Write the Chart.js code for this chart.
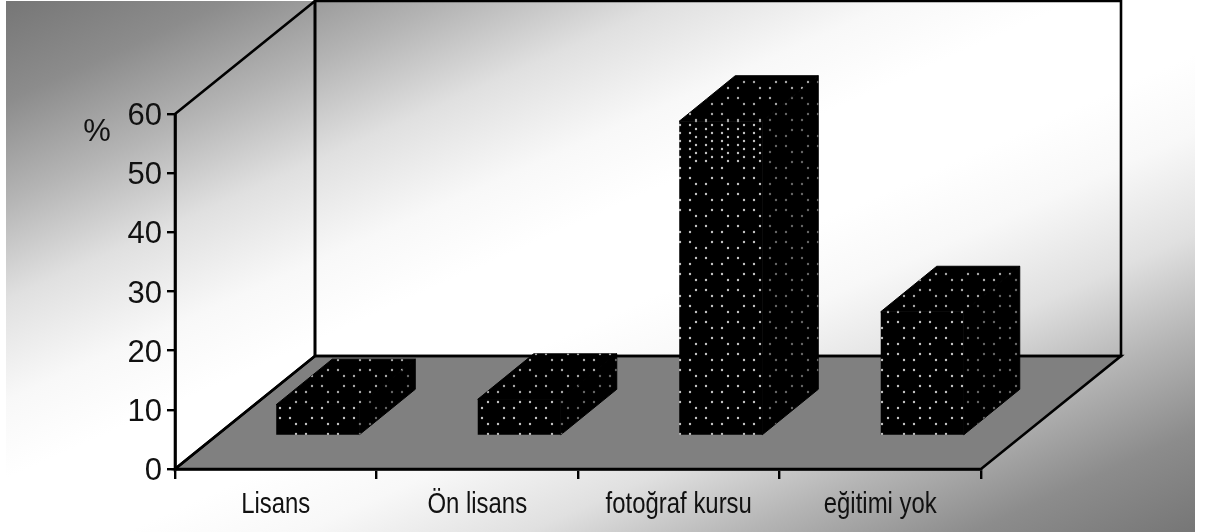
<!DOCTYPE html>
<html>
<head>
<meta charset="utf-8">
<style>
  body { margin: 0; background: #fff; }
  canvas { display: block; }
</style>
<script src="https://cdn.jsdelivr.net/npm/chart.js@4/dist/chart.umd.min.js"></script>
</head>
<body>
<canvas id="chart" width="1215" height="532"></canvas>
<script>
const categories = ["Lisans", "Ön lisans", "fotoğraf kursu", "eğitimi yok"];
const values = [5.3, 6.2, 53.2, 21];
const yTicks = [0, 10, 20, 30, 40, 50, 60];

// box depth and bar depth of the 3d look
const wallDepth = { x: 140, y: -113 };
const barShift = { x: 42, y: -33 };
const barDepth = { x: 56, y: -45.5 };

// dotted fill, 32px wide tile. rows are listed for the full canvas height
// because the reference texture gets denser near the top of the tall bar
function dotPattern(dotColor, dense) {
  const tile = document.createElement("canvas");
  tile.width = 32;
  tile.height = 532;
  const c = tile.getContext("2d");
  c.fillStyle = "#000";
  c.fillRect(0, 0, 32, 532);
  c.fillStyle = dotColor;
  function row(y, cols) {
    cols.forEach(function(x) {
      c.beginPath();
      c.arc(x, y, 1.2, 0, Math.PI * 2);
      c.fill();
    });
  }
  for (let y = 0; y < 532; y++) {
    const inBand = dense && y > 120 && y < 164;
    if (inBand) {
      if (y % 8 === 5) row(y, [8, 18]);
      if (y % 8 === 1) row(y, [24, 2]);
    } else {
      if (y % 32 === 8 || y % 32 === 18) row(y, [8, 18]);
      if (y % 32 === 24 || y % 32 === 2) row(y, [24, 2]);
    }
  }
  const pattern = document.getElementById("chart").getContext("2d").createPattern(tile, "repeat");
  // keep the dots fixed to the page while the bars are shifted
  pattern.setTransform(new DOMMatrix().translate(-barShift.x, -barShift.y));
  return pattern;
}

const frontFill = dotPattern("#c4c4c4", true);
const topFill = dotPattern("#a8a8a8", false);
const sideFill = dotPattern("#666666", false);

function polygon(ctx, points) {
  ctx.beginPath();
  points.forEach(function(p, i) {
    if (i === 0) ctx.moveTo(p[0], p[1]);
    else ctx.lineTo(p[0], p[1]);
  });
  ctx.closePath();
}

const boxPlugin = {
  id: "box",
  beforeDraw(chart) {
    const ctx = chart.ctx;
    const a = chart.chartArea;
    const dx = wallDepth.x, dy = wallDepth.y;

    // page background, dark corners and a white band through the middle
    const grad = ctx.createLinearGradient(402.6, -176.3, 798.4, 709.3);
    [[0, "#767676"], [0.094, "#8c8c8c"], [0.188, "#b4b4b4"], [0.281, "#e0e0e0"], [0.376, "#f8f8f8"], [0.45, "#ffffff"],
     [0.55, "#ffffff"], [0.624, "#f8f8f8"], [0.719, "#e0e0e0"], [0.812, "#b4b4b4"], [0.906, "#8c8c8c"], [1, "#767676"]].forEach(function(s) {
      grad.addColorStop(s[0], s[1]);
    });
    ctx.save();
    ctx.fillStyle = grad;
    ctx.fillRect(6, 1, 1189, 531);

    // floor
    ctx.fillStyle = "#808080";
    ctx.strokeStyle = "#000";
    ctx.lineWidth = 2.6;
    polygon(ctx, [[a.left, a.bottom], [a.right, a.bottom], [a.right + dx, a.bottom + dy], [a.left + dx, a.bottom + dy]]);
    ctx.fill();
    ctx.stroke();

    // side wall and back wall
    polygon(ctx, [[a.left, a.top], [a.left + dx, a.top + dy], [a.left + dx, a.bottom + dy], [a.left, a.bottom]]);
    ctx.stroke();
    polygon(ctx, [[a.left + dx, a.top + dy], [a.right + dx, a.top + dy], [a.right + dx, a.bottom + dy], [a.left + dx, a.bottom + dy]]);
    ctx.stroke();
    ctx.restore();
  },
  beforeDatasetDraw(chart, args) {
    const ctx = chart.ctx;
    ctx.save();
    ctx.translate(barShift.x, barShift.y);
    ctx.strokeStyle = "#000";
    ctx.lineWidth = 1;
    args.meta.data.forEach(function(bar) {
      const l = bar.x - bar.width / 2, r = bar.x + bar.width / 2;
      ctx.fillStyle = sideFill;
      polygon(ctx, [[r, bar.y], [r + barDepth.x, bar.y + barDepth.y], [r + barDepth.x, bar.base + barDepth.y], [r, bar.base]]);
      ctx.stroke();
      ctx.fill();
      ctx.fillStyle = topFill;
      polygon(ctx, [[l, bar.y], [l + barDepth.x, bar.y + barDepth.y], [r + barDepth.x, bar.y + barDepth.y], [r, bar.y]]);
      ctx.stroke();
      ctx.fill();
    });
  },
  afterDatasetDraw(chart) {
    chart.ctx.restore();
  },
  afterDraw(chart) {
    const ctx = chart.ctx;
    ctx.save();
    ctx.fillStyle = "#111";

    // y labels and %, digits centred on the ticks
    ctx.font = "31px 'Liberation Sans'";
    ctx.textAlign = "right";
    ctx.textBaseline = "alphabetic";
    chart.scales.y.ticks.forEach(function(t) {
      ctx.fillText(t.label, 162, chart.scales.y.getPixelForValue(t.value) + 11);
    });
    ctx.textAlign = "center";
    ctx.fillText("%", 97, 141);

    // category labels are squeezed horizontally in the reference
    ctx.font = "29px 'Liberation Sans'";
    chart.scales.x.ticks.forEach(function(t, i) {
      const w = ctx.measureText(t.label).width * 0.825;
      ctx.fillText(t.label, chart.scales.x.getPixelForTick(i), 513, w);
    });
    ctx.restore();
  }
};

new Chart(document.getElementById("chart"), {
  type: "bar",
  data: {
    labels: categories,
    datasets: [{
      data: values,
      backgroundColor: frontFill,
      borderWidth: 0,
      barPercentage: 0.412,
      categoryPercentage: 1,
      clip: false
    }]
  },
  options: {
    responsive: false,
    animation: false,
    layout: { padding: { top: 114, right: 234, left: 0, bottom: 0 } },
    plugins: { legend: { display: false }, tooltip: { enabled: false } },
    scales: {
      x: {
        afterFit(scale) { scale.height = 63; },
        border: { color: "#000", width: 2.8 },
        grid: { drawOnChartArea: false, color: "#000", lineWidth: 2.4, tickLength: 10 },
        ticks: { display: false, autoSkip: false, maxRotation: 0 }
      },
      y: {
        min: 0,
        max: 60,
        afterFit(scale) { scale.width = 175; },
        afterBuildTicks(scale) { scale.ticks = yTicks.map(function(v) { return { value: v }; }); },
        border: { color: "#000", width: 2.8 },
        grid: { drawOnChartArea: false, color: "#000", lineWidth: 2.4, tickLength: 8 },
        ticks: { display: false }
      }
    }
  },
  plugins: [boxPlugin]
});
</script>
</body>
</html>
